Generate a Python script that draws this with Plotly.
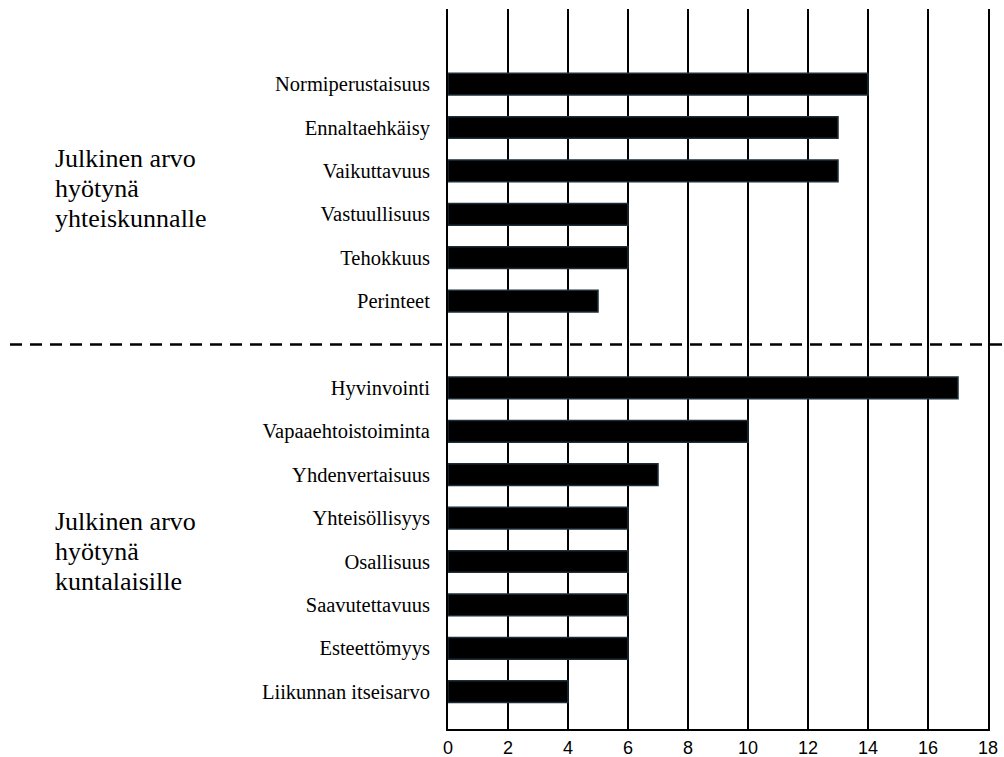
import plotly.graph_objects as go

# Data
group1_labels = ["Normiperustaisuus", "Ennaltaehkäisy", "Vaikuttavuus",
                 "Vastuullisuus", "Tehokkuus", "Perinteet"]
group1_values = [14, 13, 13, 6, 6, 5]
group2_labels = ["Hyvinvointi", "Vapaaehtoistoiminta", "Yhdenvertaisuus",
                 "Yhteisöllisyys", "Osallisuus", "Saavutettavuus",
                 "Esteettömyys", "Liikunnan itseisarvo"]
group2_values = [17, 10, 7, 6, 6, 6, 6, 4]
group1_title = ["Julkinen arvo", "hyötynä", "yhteiskunnalle"]
group2_title = ["Julkinen arvo", "hyötynä", "kuntalaisille"]
x_ticks = [0, 2, 4, 6, 8, 10, 12, 14, 16, 18]

# slot positions: group 1, an empty slot for the divider, group 2
n1 = len(group1_labels)
n2 = len(group2_labels)
y1 = list(range(n1))
divider = n1
y2 = [n1 + 1 + i for i in range(n2)]
labels = group1_labels + group2_labels
values = group1_values + group2_values
ypos = y1 + y2

fig = go.Figure()
fig.add_trace(go.Bar(
    x=values, y=ypos, orientation="h", width=0.5,
    marker=dict(color="#000000", line=dict(color="#1d2e38", width=1.5)),
    showlegend=False, hoverinfo="skip",
))

serif = "Liberation Serif, Times New Roman, serif"
sans = "Liberation Sans, Arial, sans-serif"

PLOT_W = 540
fig.update_layout(
    template="none",
    width=1004, height=757,
    margin=dict(l=448, r=16, t=9, b=28),
    paper_bgcolor="white", plot_bgcolor="white",
    xaxis=dict(
        range=[0, 18], tickvals=x_ticks, ticktext=[str(v) for v in x_ticks],
        showgrid=True, gridcolor="#000000", gridwidth=2,
        showline=True, linecolor="#000000", linewidth=2,
        zeroline=False, ticks="", ticklabelstandoff=1,
        tickfont=dict(family=sans, size=18, color="#000000"),
        automargin=False, fixedrange=True,
    ),
    yaxis=dict(
        range=[14.86, -1.73], tickvals=ypos, ticktext=labels,
        showgrid=False, zeroline=False,
        showline=True, mirror=True, linecolor="#000000", linewidth=2,
        ticks="", ticklabelstandoff=12,
        tickfont=dict(family=serif, size=20.5, color="#000000"),
        automargin=False, fixedrange=True,
    ),
)

# dashed divider across the whole width
fig.add_shape(type="line", xref="paper", yref="y",
              x0=-438 / PLOT_W, x1=560 / PLOT_W, y0=divider, y1=divider,
              line=dict(color="#000000", width=2.5, dash="12px,8px"))

# group titles, one annotation per line
for title, centre in [(group1_title, 2.4), (group2_title, 10.78)]:
    for i, line in enumerate(title):
        fig.add_annotation(text=line, xref="paper", yref="y",
                           x=-395 / PLOT_W, y=centre, yshift=-(i - 1) * 30,
                           xanchor="left", yanchor="middle", align="left",
                           showarrow=False,
                           font=dict(family=serif, size=26, color="#000000"))

fig.write_html(
    "out.html",
    config={"displayModeBar": False},
    post_script="document.body.style.margin='0';"
                "document.body.style.overflow='hidden';",
)
